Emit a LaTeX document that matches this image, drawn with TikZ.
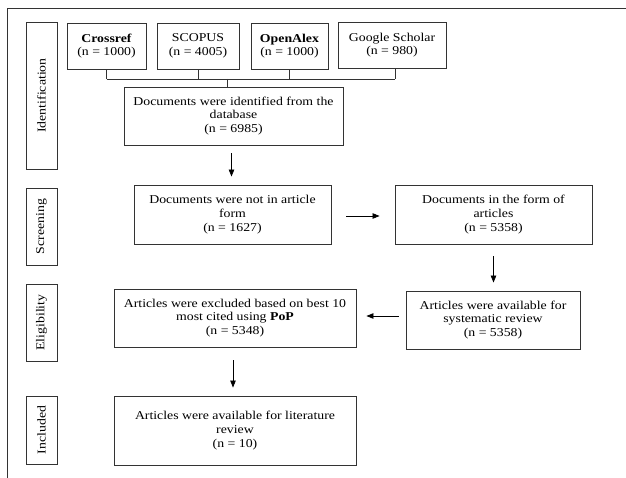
\documentclass[tikz,border=0pt]{standalone}
\usepackage{fontspec}
\setmainfont{Liberation Serif}[FakeStretch=1.15]
\usetikzlibrary{arrows.meta,calc}
\begin{document}
\begin{tikzpicture}[x=1pt,y=-1pt,
  line/.style={draw=black!80,line width=0.9pt},
  box/.style={line,rectangle,inner sep=0pt,align=center,
    font=\fontsize{12}{13.7}\selectfont},
  stage/.style={box,rotate=90,minimum height=31pt},
  arr/.style={draw=black,line width=0.8pt,-{Triangle[length=7pt,width=5.5pt]}}]
\useasboundingbox (0,0) rectangle (626,478);
% outer frame (top and left edges)
\draw[line] (7,478) -- (7,8) -- (626,8);
% stage labels
\node[stage,minimum width=147pt] (sid) at (41.5,95.5) {Identification};
\node[stage,minimum width=77pt] (ssc) at (41.5,226.5) {Screening};
\node[stage,minimum width=77pt] (sel) at (41.5,322.5) {Eligibility};
\node[stage,minimum width=68pt] (sin) at (41.5,430) {Included};
% sources
\node[box,minimum width=79pt,minimum height=46pt] (cr) at (106.5,46) {\textbf{Crossref}\\(n = 1000)};
\node[box,minimum width=82pt,minimum height=46pt] (sc) at (198,46) {SCOPUS\\(n = 4005)};
\node[box,minimum width=77pt,minimum height=46pt] (oa) at (289.5,46) {\textbf{OpenAlex}\\(n = 1000)};
\node[box,minimum width=108pt,minimum height=46pt] (gs) at (392,45) {Google Scholar\\(n = 980)};
% main boxes
\node[box,minimum width=219pt,minimum height=58pt] (ident) at (233.5,116) {Documents were identified from the\\database\\(n = 6985)};
\node[box,minimum width=197pt,minimum height=59pt] (notart) at (232.5,214.5) {Documents were not in article\\form\\(n = 1627)};
\node[box,minimum width=197pt,minimum height=59pt] (art) at (493.5,214.5) {Documents in the form of\\articles\\(n = 5358)};
\node[box,minimum width=174pt,minimum height=58pt] (sys) at (493,320) {Articles were available for\\systematic review\\(n = 5358)};
\node[box,minimum width=242pt,minimum height=58pt] (excl) at (235,318) {Articles were excluded based on best 10\\most cited using \textbf{PoP}\\(n = 5348)};
\node[box,minimum width=242pt,minimum height=69pt] (incl) at (235,430.5) {Articles were available for literature\\review\\(n = 10)};
% bus connector
\coordinate (bus) at (227,79);
\draw[line] (cr.south) -- (cr.south |- bus);
\draw[line] (sc.south) -- (sc.south |- bus);
\draw[line] (oa.south) -- (oa.south |- bus);
\draw[line] ([xshift=3pt]gs.south) -- ([xshift=3pt]gs.south |- bus);
\draw[line] (cr.south |- bus) -- ([xshift=3pt]gs.south |- bus);
\draw[line] (bus) -- (bus |- ident.north);
% arrows
\draw[arr,shorten <=8pt,shorten >=8pt] ([xshift=-2pt]ident.south) -- ([xshift=-2pt]ident.south |- notart.north);
\draw[arr,shorten <=15pt,shorten >=15pt] ([yshift=-1.5pt]notart.east) -- ([yshift=-1.5pt]art.west);
\draw[arr,shorten <=12pt,shorten >=8pt] (art.south) -- (art.south |- sys.north);
\draw[arr,shorten <=7pt,shorten >=10pt] ([yshift=4pt]sys.west) -- ([yshift=4pt]sys.west -| excl.east);
\draw[arr,shorten <=13pt,shorten >=8pt] ([xshift=-2pt]excl.south) -- ([xshift=-2pt]incl.north);
\end{tikzpicture}
\end{document}
